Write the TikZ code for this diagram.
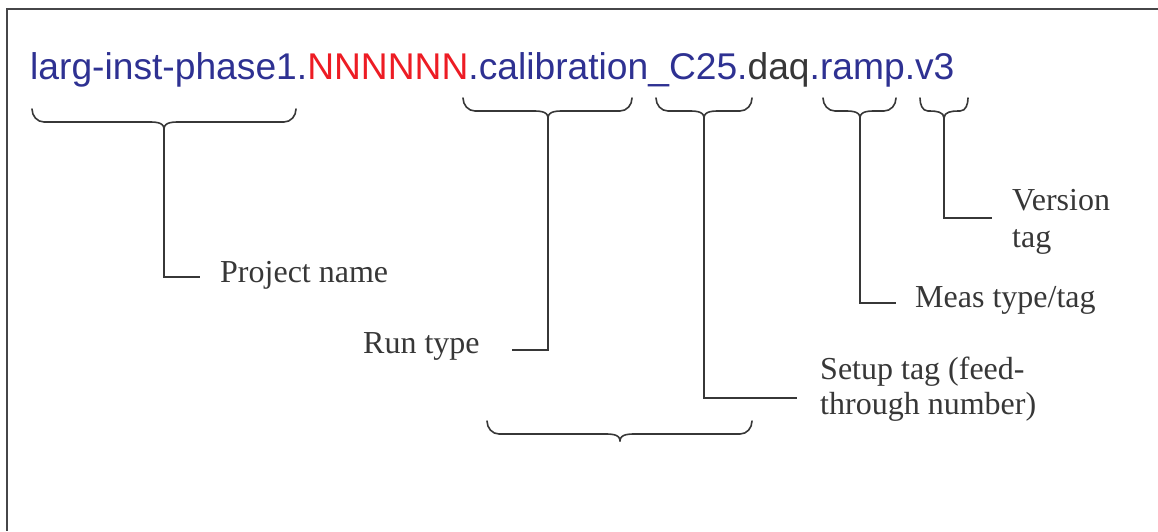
\documentclass[tikz,border=0pt]{standalone}
\usepackage{fontspec}
\setmainfont{Liberation Serif}
\newfontfamily\namefont{Liberation Sans}
\usetikzlibrary{positioning}
\definecolor{nameblue}{RGB}{46,49,146}
\definecolor{namered}{RGB}{237,28,36}
\definecolor{inkgray}{RGB}{55,55,55}
\definecolor{framegray}{RGB}{70,70,72}
\tikzstyle{tagtext} = [anchor=base west, inner sep=0pt, text=inkgray, font=\fontsize{32}{35}\selectfont, align=left]
\tikzstyle{conn} = [draw=inkgray, line width=1.6pt]
\tikzstyle{curly} = [draw=inkgray, line width=1.6pt, line cap=round]

% under-brace: left x, right x, tip x, top y, name of tip
\newcommand{\fieldbrace}[5]{%
  \pgfmathsetmacro\endw{min(12,(#2-#1)/6)}
  \pgfmathsetmacro\tipw{min(18,(#2-#1)/2-\endw-2)}
  \coordinate (#5) at (#3,#4+20);
  \draw[curly] (#1,#4) to[out=-90,in=180] (#1+\endw,#4+13) -- (#3-\tipw,#4+13) to[out=0,in=90] (#3,#4+20);
  \draw[curly] (#2,#4) to[out=-90,in=0] (#2-\endw,#4+13) -- (#3+\tipw,#4+13) to[out=180,in=90] (#3,#4+20);
}

\begin{document}
\begin{tikzpicture}[x=1pt, y=-1pt]

        \useasboundingbox (0,0) rectangle (1158,531);
        \draw[draw=framegray, line width=1.8pt] (1158,9) -- (7,9) -- (7,531);

        % file name
        \node (fileName) [anchor=base west, inner sep=0pt, font=\namefont\fontsize{37.2}{44}\selectfont, text=nameblue] at (30,79)
            {larg-inst-phase1.\textcolor{namered}{NNNNNN}.calibration\_C25.\textcolor{inkgray}{daq}.ramp.v3};

        % braces under the fields
        \fieldbrace{32}{296}{164}{109}{projTip}
        \fieldbrace{463}{632}{548}{98}{runTip}
        \fieldbrace{656}{752}{704}{98}{setupTip}
        \fieldbrace{823}{896}{860}{98}{measTip}
        \fieldbrace{920}{968}{944}{98}{versionTip}
        \fieldbrace{487}{752}{620}{421}{lowTip}

        % labels
        \node (projLabel) [tagtext] at (220,282) {Project name};
        \node (runLabel) [tagtext] at (363,353) {Run type};
        \node (setupLabel) [tagtext] at (820,414) {Setup tag (feed-\\through number)};
        \node (measLabel) [tagtext] at (915,307) {Meas type/tag};
        \node (versionLabel) [tagtext] at (1012,247) {Version\\[2pt]tag};

        \coordinate (projEnd) at (200,277);
        \coordinate (runEnd) at (512,350);
        \coordinate (setupEnd) at (797,398);
        \coordinate (measEnd) at (896,303);
        \coordinate (versionEnd) at (992,218);

        \draw [conn] (projTip) |- (projEnd);
        \draw [conn] (runTip) |- (runEnd);
        \draw [conn] (setupTip) |- (setupEnd);
        \draw [conn] (measTip) |- (measEnd);
        \draw [conn] (versionTip) |- (versionEnd);

\end{tikzpicture}
\end{document}
